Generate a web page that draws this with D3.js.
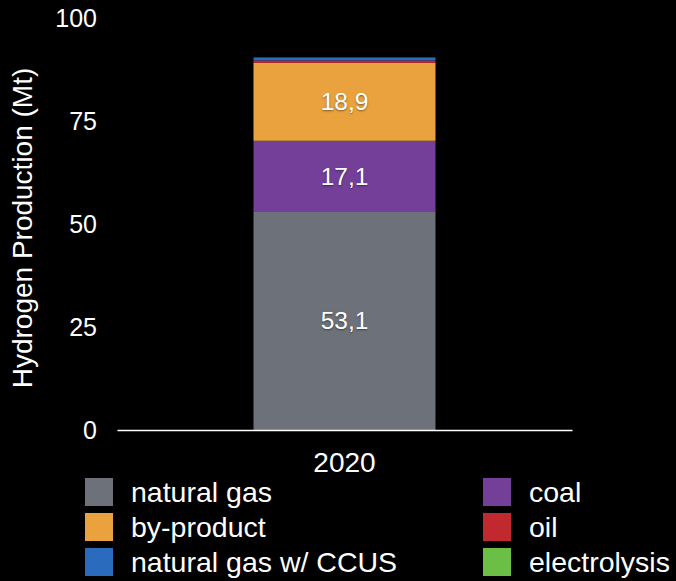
<!DOCTYPE html>
<html>
<head>
<meta charset="utf-8">
<script src="https://cdn.jsdelivr.net/npm/d3@7"></script>
<style>
  html, body { margin: 0; padding: 0; background: #000; }
  svg { display: block; font-family: "Liberation Sans", Arial, sans-serif; }
</style>
</head>
<body>
<div id="chart"></div>
<script>
// Data
const years = ['2020'];
const sources = ['natural gas', 'coal', 'by-product', 'oil', 'natural gas w/ CCUS', 'electrolysis'];
const production = [53.1, 17.1, 18.9, 0.6, 0.7, 0.03];
const colors = ['#6d7179', '#733f98', '#e9a23e', '#c1292f', '#2a6bbd', '#6bbf45'];
const yTicks = [0, 25, 50, 75, 100];
const legendOrder = ['natural gas', 'coal', 'by-product', 'oil', 'natural gas w/ CCUS', 'electrolysis'];

const width = 676, height = 581;

const svg = d3.select('#chart')
    .append('svg')
    .attr('width', width)
    .attr('height', height)
    .style('background', '#000');

// Scales
const x = d3.scaleBand()
    .domain(years)
    .range([117, 572])
    .paddingInner(0)
    .paddingOuter(0.75);

const y = d3.scaleLinear()
    .domain([0, 100])
    .range([430, 18]);

const color = d3.scaleOrdinal().domain(sources).range(colors);

// Stack
const row = { year: '2020' };
sources.forEach((s, i) => row[s] = production[i]);
const series = d3.stack().keys(sources)([row]);

// Y axis
const yAxis = svg.append('g')
    .attr('transform', 'translate(117,0)')
    .call(d3.axisLeft(y).tickValues(yTicks).tickSize(0).tickPadding(20));
yAxis.select('.domain').remove();
yAxis.selectAll('text')
    .attr('fill', '#fff')
    .style('font-size', '25px')
    .style('font-family', '"Liberation Sans", Arial, sans-serif');

// Y title
svg.append('text')
    .attr('transform', 'translate(32,228) rotate(-90)')
    .attr('text-anchor', 'middle')
    .attr('fill', '#fff')
    .style('font-size', '28px')
    .text('Hydrogen Production (Mt)');

// Bars
svg.selectAll('.layer')
    .data(series)
    .enter()
    .append('rect')
    .attr('class', 'layer')
    .attr('x', x('2020'))
    .attr('width', x.bandwidth())
    .attr('y', d => y(d[0][1]))
    .attr('height', d => y(d[0][0]) - y(d[0][1]))
    .attr('fill', d => color(d.key));

// Value labels on the big segments
svg.selectAll('.val')
    .data(series.filter(d => d[0][1] - d[0][0] > 5))
    .enter()
    .append('text')
    .attr('class', 'val')
    .attr('x', x('2020') + x.bandwidth() / 2)
    .attr('y', d => y((d[0][0] + d[0][1]) / 2))
    .attr('dy', '0.35em')
    .attr('text-anchor', 'middle')
    .attr('fill', '#fff')
    .style('font-size', '24.5px')
    .style('text-shadow', '0 1px 2px rgba(0,0,0,0.45)')
    .text(d => d3.format('.1f')(d[0][1] - d[0][0]).replace('.', ','));

// X axis
const xAxis = svg.append('g')
    .attr('transform', 'translate(0,430)')
    .call(d3.axisBottom(x).tickSize(0).tickSizeOuter(0).tickPadding(22));
xAxis.select('.domain')
    .attr('stroke', '#fff')
    .attr('stroke-width', 1.5);
xAxis.selectAll('text')
    .attr('fill', '#fff')
    .style('font-size', '28px')
    .style('font-family', '"Liberation Sans", Arial, sans-serif');

// Legend
const legend = svg.append('g');
const items = legend.selectAll('.legend-item')
    .data(legendOrder)
    .enter()
    .append('g')
    .attr('class', 'legend-item')
    .attr('transform', (d, i) => `translate(${i % 2 === 0 ? 85 : 483}, ${478 + Math.floor(i / 2) * 35})`);

items.append('rect')
    .attr('width', 28)
    .attr('height', 28)
    .attr('fill', d => color(d));

items.append('text')
    .attr('x', 46)
    .attr('y', 14)
    .attr('dy', '0.36em')
    .attr('fill', '#fff')
    .style('font-size', '28.5px')
    .text(d => d);
</script>
</body>
</html>
